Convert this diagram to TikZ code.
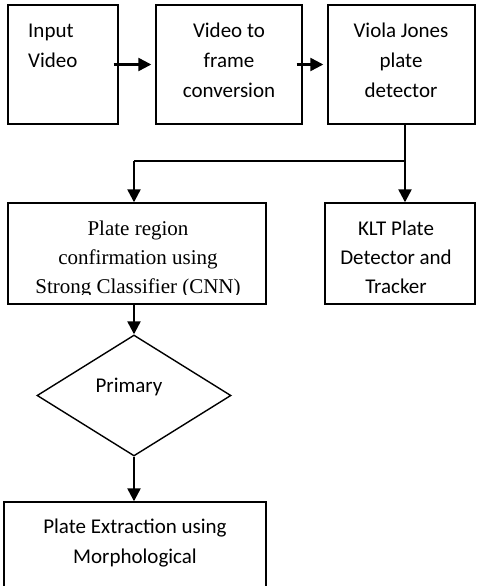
\documentclass[tikz,border=0pt]{standalone}
\usepackage{fontspec}
\setmainfont{Carlito}
\newfontfamily\platefont{Liberation Serif}
\usetikzlibrary{arrows.meta,shapes.geometric}
\tikzset{
    stage/.style={draw,line width=1.4pt,inner sep=0pt},
    caption/.style={inner sep=0pt,align=center,font=\fontsize{21}{30}\selectfont},
    flow/.style={line width=2.4pt,-{Triangle[length=13pt,width=13pt]}},
}

\begin{document}
\begin{tikzpicture}[x=1pt,y=-1pt]
    \useasboundingbox (0,0) rectangle (478,586);
    \node[stage,minimum width=110pt,minimum height=119pt] (input) at (63,64.5) {};
    \node[stage,minimum width=146pt,minimum height=119pt] (frame) at (229,64.5) {};
    \node[stage,minimum width=147pt,minimum height=119pt] (detect) at (401.5,64.5) {};
    \node[stage,minimum width=258pt,minimum height=101pt] (plate) at (137,253.5) {};
    \node[stage,minimum width=150pt,minimum height=101pt] (klt) at (400,253.5) {};
    \node[stage,diamond,minimum width=194pt,minimum height=121pt] (primary) at (134,395.5) {};
    \node[stage,minimum width=262pt,minimum height=120pt] (extract) at (135,562) {};

    \node[caption,align=left,anchor=base west] (inputtxt) at (28,67) {Input\\Video};
    \node[caption,anchor=base] (frametxt) at (229,97) {Video to\\frame\\conversion};
    \node[caption,anchor=base] (detecttxt) at (401,97) {Viola Jones\\plate\\detector};
    \begin{scope}
        \clip (plate.north west) rectangle ([yshift=10.5pt]plate.south east);
        \node[caption,anchor=base,font=\platefont\fontsize{21}{29}\selectfont] (platetxt) at (138,293) {Plate region\\confirmation using\\Strong Classifier (CNN)};
    \end{scope}
    \begin{scope}
        \clip (klt.north west) rectangle ([yshift=10.5pt]klt.south east);
        \node[caption,anchor=base,font=\fontsize{21}{29}\selectfont] (klttxt) at (396,293) {KLT Plate\\Detector and\\Tracker};
    \end{scope}
    \node[caption,anchor=base] (primarytxt) at (129,392) {Primary};
    \node[caption,anchor=base] (extracttxt) at (135,563) {Plate Extraction using\\Morphological};

    \draw[flow] ([xshift=-5pt]input.east) -- ([xshift=-4pt]frame.west);
    \draw[flow] ([xshift=-6pt]frame.east) -- ([xshift=-4pt]detect.west);
    \coordinate (split) at (405,161);
    \coordinate (left) at (134,161);
    \draw[line width=2pt] (detect.south -| split) -- (split);
    \draw[line width=1.4pt] (split) -- (left);
    \draw[flow] (left) -- (left |- plate.north);
    \draw[flow] (split) -- (split |- klt.north);
    \draw[flow] (primary.north |- plate.south) -- (primary.north);
    \draw[flow] (primary.south) -- (primary.south |- extract.north);
\end{tikzpicture}
\end{document}
